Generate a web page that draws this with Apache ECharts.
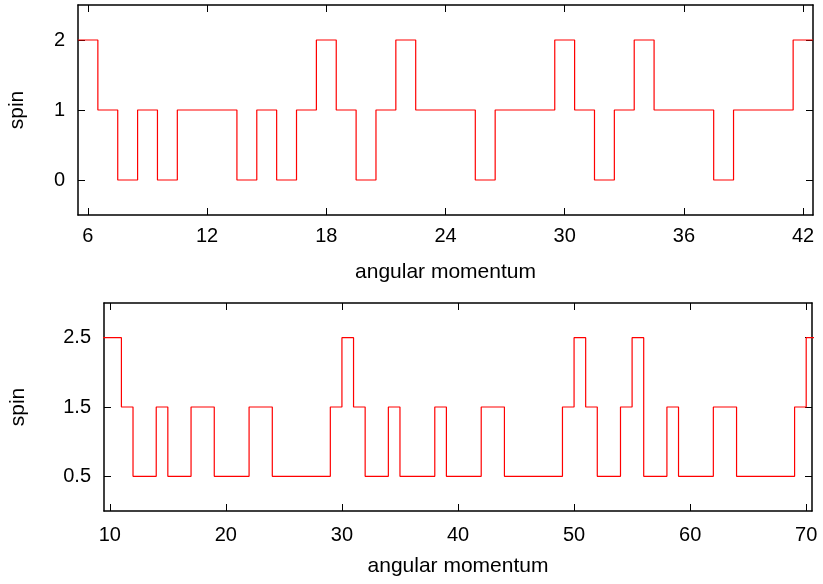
<!DOCTYPE html>
<html>
<head>
<meta charset="utf-8">
<script src="https://cdn.jsdelivr.net/npm/echarts@6/dist/echarts.min.js"></script>
<style>
  html, body { margin: 0; padding: 0; background: #fff; }
  #chart { width: 823px; height: 584px; }
</style>
</head>
<body>
<div id="chart"></div>
<script>
// top panel: integer angular momentum
var topJ = [];
for (var j = 6; j <= 42; j++) topJ.push(j);
var topSpin = [2, 1, 0, 1, 0, 1, 1, 1, 0, 1, 0, 1, 2, 1, 0, 1, 2, 1, 1, 1,
               0, 1, 1, 1, 2, 1, 0, 1, 2, 1, 1, 1, 0, 1, 1, 1, 2];
var topXTicks = [6, 12, 18, 24, 30, 36, 42];
var topYTicks = [0, 1, 2];

// bottom panel: half-integer angular momentum
var botJ = [];
for (var k = 9.5; k <= 70.5; k += 1) botJ.push(k);
var botSpin = [2.5, 2.5, 1.5, 0.5, 0.5, 1.5, 0.5, 0.5, 1.5, 1.5,
               0.5, 0.5, 0.5, 1.5, 1.5, 0.5, 0.5, 0.5, 0.5, 0.5,
               1.5, 2.5, 1.5, 0.5, 0.5, 1.5, 0.5, 0.5, 0.5, 1.5,
               0.5, 0.5, 0.5, 1.5, 1.5, 0.5, 0.5, 0.5, 0.5, 0.5,
               1.5, 2.5, 1.5, 0.5, 0.5, 1.5, 2.5, 0.5, 0.5, 1.5,
               0.5, 0.5, 0.5, 1.5, 1.5, 0.5, 0.5, 0.5, 0.5, 0.5,
               1.5, 2.5];
var botXTicks = [10, 20, 30, 40, 50, 60, 70];
var botYTicks = [0.5, 1.5, 2.5];

// histogram-step path (each value spans J-0.5 .. J+0.5)
function histeps(xs, ys) {
    var out = [];
    for (var i = 0; i < xs.length; i++) {
        out.push([xs[i] - 0.5, ys[i]]);
        out.push([xs[i] + 0.5, ys[i]]);
    }
    return out;
}

var FONT = 'Liberation Sans';

function xAxisOf(gi, min, max, ticks, pos, nameGap) {
    var main = pos === 'bottom';
    return {
        type: 'value', gridIndex: gi, position: pos, min: min, max: max,
        name: main ? 'angular momentum' : '',
        nameLocation: 'middle', nameGap: nameGap,
        nameTextStyle: { fontFamily: FONT, fontSize: 21, color: '#000' },
        axisLine: { show: true, onZero: false, lineStyle: { color: '#000', width: 1.5 } },
        axisTick: { show: true, inside: true, length: 7, customValues: ticks,
                    lineStyle: { color: '#000', width: 1 } },
        axisLabel: { show: main, customValues: ticks, margin: main ? (gi === 0 ? 11 : 14) : 8,
                     fontFamily: FONT, fontSize: 20, color: '#000' },
        splitLine: { show: false }
    };
}

function yAxisOf(gi, min, max, ticks, pos, nameGap) {
    var main = pos === 'left';
    return {
        type: 'value', gridIndex: gi, position: pos, min: min, max: max,
        name: main ? 'spin' : '',
        nameLocation: 'middle', nameGap: nameGap,
        nameTextStyle: { fontFamily: FONT, fontSize: 21, color: '#000' },
        axisLine: { show: true, onZero: false, lineStyle: { color: '#000', width: 1.5 } },
        axisTick: { show: true, inside: true, length: 7, customValues: ticks,
                    lineStyle: { color: '#000', width: 1 } },
        axisLabel: { show: main, customValues: ticks, margin: 13,
                     fontFamily: FONT, fontSize: 20, color: '#000' },
        splitLine: { show: false }
    };
}

var chart = echarts.init(document.getElementById('chart'));
var option = {
    animation: false,
    backgroundColor: '#fff',
    grid: [
        { left: 78, top: 5, width: 735, height: 210, containLabel: false, outerBoundsMode: 'none' },
        { left: 104, top: 303, width: 708, height: 208, containLabel: false, outerBoundsMode: 'none' }
    ],
    xAxis: [
        xAxisOf(0, 5.5, 42.5, topXTicks, 'bottom', 47),
        xAxisOf(0, 5.5, 42.5, topXTicks, 'top', 10),
        xAxisOf(1, 9.5, 70.5, botXTicks, 'bottom', 45),
        xAxisOf(1, 9.5, 70.5, botXTicks, 'top', 10)
    ],
    yAxis: [
        yAxisOf(0, -0.5, 2.5, topYTicks, 'left', 50),
        yAxisOf(0, -0.5, 2.5, topYTicks, 'right', 10),
        yAxisOf(1, 0, 3, botYTicks, 'left', 75),
        yAxisOf(1, 0, 3, botYTicks, 'right', 10)
    ],
    series: [
        {
            type: 'line', xAxisIndex: 0, yAxisIndex: 0,
            data: histeps(topJ, topSpin),
            showSymbol: false, clip: true,
            lineStyle: { color: '#ff0000', width: 1.2 }
        },
        {
            type: 'line', xAxisIndex: 2, yAxisIndex: 2,
            data: histeps(botJ, botSpin),
            showSymbol: false, clip: true,
            lineStyle: { color: '#ff0000', width: 1.2 }
        }
    ]
};
chart.setOption(option);
</script>
</body>
</html>
